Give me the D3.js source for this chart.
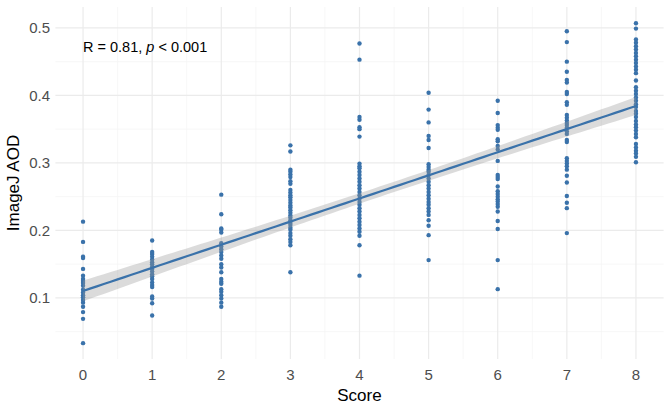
<!DOCTYPE html>
<html>
<head>
<meta charset="utf-8">
<script src="https://cdn.jsdelivr.net/npm/d3@7"></script>
<style>
  body { margin: 0; background: #fff; }
  text { font-family: "Liberation Sans", Arial, sans-serif; }
</style>
</head>
<body>
<div id="vis-container"></div>
<script>
// values, one array per score
const aod0 = [0.213, 0.183, 0.161, 0.159, 0.143, 0.133, 0.128, 0.125, 0.122, 0.118, 0.112, 0.108, 0.104, 0.101, 0.097, 0.093, 0.087, 0.079, 0.069, 0.033];
const aod1 = [0.185, 0.168, 0.165, 0.161, 0.157, 0.153, 0.150, 0.146, 0.143, 0.139, 0.135, 0.132, 0.128, 0.123, 0.119, 0.116, 0.102, 0.099, 0.092, 0.074];
const aod2 = [0.253, 0.224, 0.203, 0.201, 0.197, 0.181, 0.176, 0.172, 0.168, 0.163, 0.158, 0.150, 0.145, 0.138, 0.128, 0.124, 0.121, 0.113, 0.109, 0.104, 0.099, 0.093, 0.087];
const aod3 = [0.326, 0.317, 0.290, 0.287, 0.283, 0.279, 0.273, 0.269, 0.260, 0.256, 0.252, 0.249, 0.245, 0.241, 0.237, 0.234, 0.230, 0.226, 0.222, 0.219, 0.215, 0.211, 0.208, 0.204, 0.201, 0.196, 0.192, 0.187, 0.183, 0.178, 0.138];
const aod4 = [0.477, 0.453, 0.368, 0.364, 0.353, 0.350, 0.339, 0.299, 0.295, 0.292, 0.287, 0.282, 0.277, 0.272, 0.267, 0.262, 0.257, 0.252, 0.247, 0.242, 0.238, 0.233, 0.228, 0.223, 0.218, 0.213, 0.208, 0.203, 0.198, 0.192, 0.178, 0.133];
const aod5 = [0.404, 0.379, 0.360, 0.340, 0.334, 0.322, 0.298, 0.294, 0.290, 0.287, 0.282, 0.277, 0.272, 0.267, 0.262, 0.257, 0.252, 0.247, 0.242, 0.238, 0.233, 0.228, 0.223, 0.215, 0.207, 0.193, 0.156];
const aod6 = [0.392, 0.374, 0.356, 0.352, 0.349, 0.335, 0.332, 0.325, 0.320, 0.303, 0.282, 0.279, 0.276, 0.265, 0.258, 0.254, 0.250, 0.246, 0.243, 0.239, 0.235, 0.228, 0.214, 0.202, 0.156, 0.113];
const aod7 = [0.495, 0.479, 0.450, 0.435, 0.423, 0.419, 0.405, 0.402, 0.390, 0.386, 0.371, 0.367, 0.363, 0.359, 0.356, 0.352, 0.347, 0.343, 0.334, 0.331, 0.307, 0.303, 0.299, 0.295, 0.290, 0.281, 0.271, 0.251, 0.241, 0.233, 0.196];
const aod8 = [0.507, 0.499, 0.483, 0.478, 0.473, 0.468, 0.463, 0.458, 0.453, 0.448, 0.443, 0.438, 0.433, 0.422, 0.412, 0.407, 0.402, 0.397, 0.392, 0.387, 0.383, 0.377, 0.373, 0.368, 0.362, 0.357, 0.353, 0.348, 0.343, 0.338, 0.328, 0.323, 0.318, 0.314, 0.309, 0.301];

const scores = [0, 1, 2, 3, 4, 5, 6, 7, 8];
const aodByScore = [aod0, aod1, aod2, aod3, aod4, aod5, aod6, aod7, aod8];
const xTicks = [0, 1, 2, 3, 4, 5, 6, 7, 8];
const xMinor = [0.5, 1.5, 2.5, 3.5, 4.5, 5.5, 6.5, 7.5];
const yTicks = [0.1, 0.2, 0.3, 0.4, 0.5];
const yMinor = [0.05, 0.15, 0.25, 0.35, 0.45];
const corLabel = "R = 0.81, ";

// flatten into points
let points = [];
scores.forEach((s, i) => {
    aodByScore[i].forEach(v => points.push({score: s, aod: v}));
});

let width = 669, height = 410;
let panel = {left: 55.4, right: 663.6, top: 7, bottom: 359};

let svg = d3.select("#vis-container").append("svg")
    .attr("width", width)
    .attr("height", height);

let x = d3.scaleLinear().domain([-0.4, 8.4]).range([panel.left, panel.right]);
let y = d3.scaleLinear().domain([0.0095, 0.531]).range([panel.bottom, panel.top]);

// grid
let grid = svg.append("g");
grid.selectAll(".ymin").data(yMinor).enter().append("line")
    .attr("x1", panel.left).attr("x2", panel.right)
    .attr("y1", d => y(d)).attr("y2", d => y(d))
    .attr("stroke", "#f3f3f3").attr("stroke-width", 0.7);
grid.selectAll(".xmin").data(xMinor).enter().append("line")
    .attr("y1", panel.top).attr("y2", panel.bottom)
    .attr("x1", d => x(d)).attr("x2", d => x(d))
    .attr("stroke", "#f3f3f3").attr("stroke-width", 0.7);
grid.selectAll(".ymaj").data(yTicks).enter().append("line")
    .attr("x1", panel.left).attr("x2", panel.right)
    .attr("y1", d => y(d)).attr("y2", d => y(d))
    .attr("stroke", "#ebebeb").attr("stroke-width", 1.2);
grid.selectAll(".xmaj").data(xTicks).enter().append("line")
    .attr("y1", panel.top).attr("y2", panel.bottom)
    .attr("x1", d => x(d)).attr("x2", d => x(d))
    .attr("stroke", "#ebebeb").attr("stroke-width", 1.2);

// points
svg.append("g").selectAll("circle").data(points).enter().append("circle")
    .attr("cx", d => x(d.score))
    .attr("cy", d => y(d.aod))
    .attr("r", 2.2)
    .attr("fill", "#3a72aa");

// linear fit with 95% confidence band
let n = points.length;
let mx = d3.mean(points, d => d.score), my = d3.mean(points, d => d.aod);
let sxx = d3.sum(points, d => (d.score - mx) ** 2);
let sxy = d3.sum(points, d => (d.score - mx) * (d.aod - my));
let slope = sxy / sxx, icpt = my - slope * mx;
let sse = d3.sum(points, d => (d.aod - icpt - slope * d.score) ** 2);
let s = Math.sqrt(sse / (n - 2));
let fitX = d3.range(0, 8.001, 0.1);
let fit = fitX.map(xx => {
    let f = icpt + slope * xx;
    let se = s * Math.sqrt(1 / n + (xx - mx) ** 2 / sxx);
    return {x: xx, f: f, lo: f - 1.97 * se, hi: f + 1.97 * se};
});
svg.append("path").datum(fit)
    .attr("fill", "#999999").attr("fill-opacity", 0.35)
    .attr("d", d3.area().x(d => x(d.x)).y0(d => y(d.lo)).y1(d => y(d.hi)));
svg.append("path").datum(fit)
    .attr("fill", "none").attr("stroke", "#3a72aa").attr("stroke-width", 2.2)
    .attr("d", d3.line().x(d => x(d.x)).y(d => y(d.f)));

// axis labels
svg.append("g").selectAll("text").data(xTicks).enter().append("text")
    .attr("x", d => x(d)).attr("y", 380)
    .attr("text-anchor", "middle")
    .attr("font-size", 15).attr("fill", "#4d4d4d")
    .text(d => d);
svg.append("g").selectAll("text").data(yTicks).enter().append("text")
    .attr("x", 50).attr("y", d => y(d) + 5.3)
    .attr("text-anchor", "end")
    .attr("font-size", 15).attr("fill", "#4d4d4d")
    .text(d => d.toFixed(1));

svg.append("text")
    .attr("x", x(4)).attr("y", 401)
    .attr("text-anchor", "middle").attr("font-size", 17).attr("fill", "#000")
    .text("Score");
svg.append("text")
    .attr("transform", "translate(19," + ((panel.top + panel.bottom) / 2) + ") rotate(-90)")
    .attr("text-anchor", "middle").attr("font-size", 17).attr("fill", "#000")
    .text("ImageJ AOD");

// correlation label
let lab = svg.append("text")
    .attr("x", x(0)).attr("y", 52)
    .attr("font-size", 14.5).attr("fill", "#000");
lab.append("tspan").text(corLabel);
lab.append("tspan").attr("font-style", "italic").text("p");
lab.append("tspan").text(" < 0.001");
</script>
</body>
</html>
